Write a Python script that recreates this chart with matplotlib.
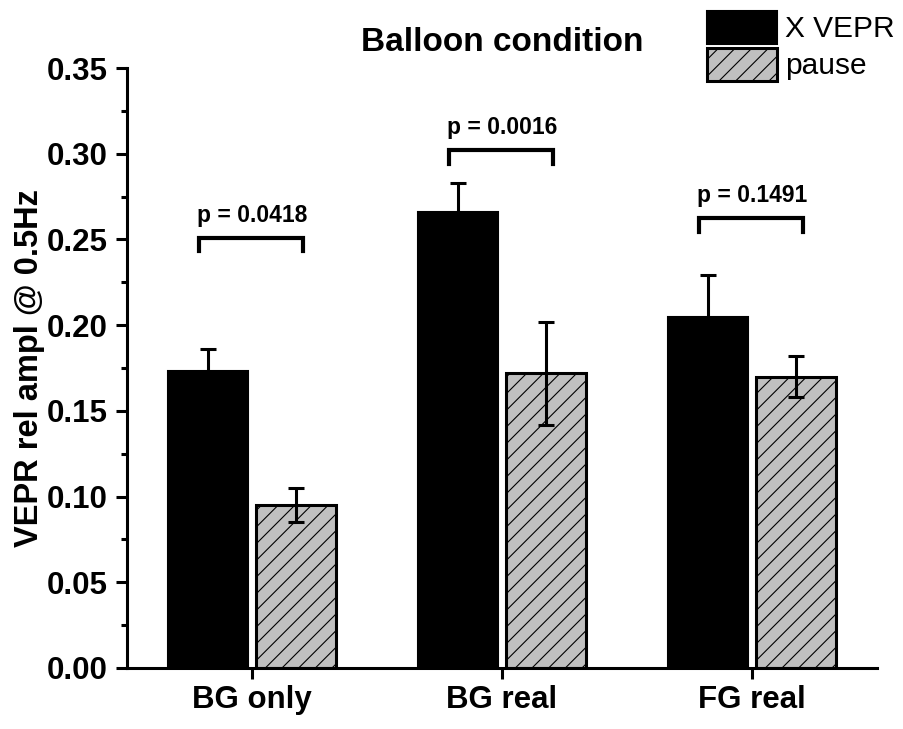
import numpy as np
import matplotlib
matplotlib.use("Agg")
import matplotlib.pyplot as plt
from matplotlib.ticker import MultipleLocator

plt.rcParams['font.family'] = ['Liberation Sans', 'DejaVu Sans']
plt.rcParams['hatch.linewidth'] = 0.8

# ── dati ──────────────────────────────────────────────────────
categories = ["BG only", "BG real", "FG real"]
vepr_mean  = [0.173, 0.266, 0.205]
vepr_err   = [0.013, 0.017, 0.024]
pause_mean = [0.095, 0.172, 0.170]
pause_err  = [0.010, 0.030, 0.012]
p_values   = ["p = 0.0418", "p = 0.0016", "p = 0.1491"]
bracket_y  = [0.251, 0.302, 0.2625]
# ─────────────────────────────────────────────────────────────

x = np.arange(1, len(categories) + 1)
w = 0.32
off = 0.176

fig = plt.figure(figsize=(9.04, 7.29), dpi=100)
ax = fig.add_axes([0.1405, 0.0837, 0.8295, 0.823])

b1 = ax.bar(x - off, vepr_mean, w, color='black', edgecolor='black', linewidth=1.5,
            yerr=vepr_err, error_kw=dict(ecolor='black', elinewidth=2.2, capsize=6, capthick=2.2),
            label='X VEPR', zorder=2)
b2 = ax.bar(x + off, pause_mean, w, color='#c0c0c0', edgecolor='black', linewidth=2.2,
            hatch='//', yerr=pause_err,
            error_kw=dict(ecolor='black', elinewidth=2.2, capsize=6, capthick=2.2),
            label='pause', zorder=2)

# parentesi con p-value
for xi, yb, txt in zip(x, bracket_y, p_values):
    x0, x1 = xi - 0.212, xi + 0.204
    h = 0.008
    ax.plot([x0, x0, x1, x1], [yb - h, yb, yb, yb - h], color='black', lw=3,
            solid_joinstyle='miter', clip_on=False)
    ax.text(xi, yb + 0.0065, txt, ha='center', va='bottom', fontsize=16.5, fontweight='bold')

ax.set_xlim(0.5, 3.5)
ax.set_ylim(0, 0.35)
ax.set_xticks(x)
ax.set_xticklabels(categories, fontsize=22.5, fontweight='bold')
ax.yaxis.set_major_locator(MultipleLocator(0.05))
ax.yaxis.set_minor_locator(MultipleLocator(0.025))
ax.yaxis.set_major_formatter(matplotlib.ticker.FormatStrFormatter('%.2f'))
for lab in ax.get_yticklabels():
    lab.set_fontweight('bold')
    lab.set_fontsize(22.5)
ax.tick_params(axis='both', which='major', direction='out', length=8, width=2.2, pad=6)
ax.tick_params(axis='y', which='minor', direction='out', length=4, width=2.2)
ax.tick_params(axis='x', pad=4)

for s in ['top', 'right']:
    ax.spines[s].set_visible(False)
for s in ['left', 'bottom']:
    ax.spines[s].set_linewidth(2.2)

ax.set_ylabel('VEPR rel ampl @ 0.5Hz', fontsize=23.5, fontweight='bold', labelpad=1)
ax.set_title('Balloon condition', fontsize=24, fontweight='bold', pad=12)

fig.legend(handles=[b1, b2], labels=['X VEPR', 'pause'], loc='upper right',
           bbox_to_anchor=(1.009, 1.010), frameon=False, fontsize=21.5,
           handlelength=2.35, handleheight=1.35, labelspacing=0.12,
           handletextpad=0.25, borderaxespad=0.2)

plt.savefig("out.png", dpi=100)
